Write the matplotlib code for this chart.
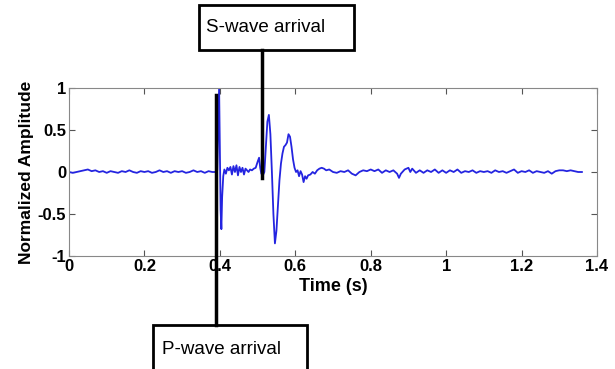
import matplotlib
matplotlib.use("Agg")
import matplotlib.pyplot as plt
from matplotlib.patches import Rectangle

plt.rcParams['font.family'] = ['Liberation Sans', 'DejaVu Sans']

# ---- data ----
time_pre = [0.00, 0.01, 0.02, 0.03, 0.04, 0.05, 0.06, 0.07, 0.08, 0.09, 0.10, 0.11, 0.12, 0.13,
            0.14, 0.15, 0.16, 0.17, 0.18, 0.19, 0.20, 0.21, 0.22, 0.23, 0.24, 0.25, 0.26, 0.27,
            0.28, 0.29, 0.30, 0.31, 0.32, 0.33, 0.34, 0.35, 0.36, 0.37, 0.38]
amp_pre = [0.0, -0.01, 0.0, 0.01, 0.02, 0.03, 0.01, 0.02, 0.0, 0.01, -0.01, 0.01, 0.0, -0.01,
           0.01, 0.0, 0.02, 0.0, -0.01, 0.01, 0.0, 0.01, -0.01, 0.0, 0.02, 0.0, 0.01, -0.01,
           0.01, 0.0, 0.01, -0.01, 0.0, 0.02, 0.0, 0.01, -0.01, 0.01, 0.0]

time_event = [0.390, 0.393, 0.396, 0.398, 0.400, 0.402, 0.404, 0.406, 0.409, 0.412, 0.416, 0.420,
              0.424, 0.428, 0.432, 0.436, 0.440, 0.444, 0.448, 0.452, 0.456, 0.460, 0.464, 0.468,
              0.472, 0.476, 0.480, 0.485, 0.490, 0.495, 0.500, 0.504, 0.507, 0.510, 0.514, 0.518,
              0.522, 0.526, 0.530, 0.534, 0.538, 0.542, 0.546, 0.550, 0.554, 0.558, 0.562, 0.566,
              0.570, 0.574, 0.578, 0.582, 0.586, 0.590, 0.594, 0.598, 0.602, 0.606, 0.610, 0.614,
              0.618, 0.622, 0.626, 0.630, 0.634, 0.640, 0.646, 0.652, 0.658, 0.664, 0.670, 0.676,
              0.682]
amp_event = [0.0, 0.02, 0.6, 1.0, 0.3, -0.45, -0.68, -0.3, -0.05, 0.03, -0.02, 0.05,
             0.02, 0.06, -0.03, 0.07, 0.0, 0.08, -0.04, 0.06, 0.0, 0.05, -0.03, 0.04,
             0.02, 0.0, 0.03, 0.02, 0.04, 0.05, 0.12, 0.17, 0.05, -0.02, -0.04, 0.0,
             0.3, 0.6, 0.68, 0.45, 0.0, -0.5, -0.85, -0.7, -0.4, -0.1, 0.1, 0.22,
             0.3, 0.32, 0.35, 0.45, 0.42, 0.3, 0.15, 0.05, 0.0, 0.02, -0.05, 0.01,
             -0.03, -0.12, -0.05, -0.08, -0.04, -0.03, 0.0, -0.02, 0.02, 0.04, 0.05, 0.04,
             0.02]

time_post = [0.69, 0.70, 0.71, 0.72, 0.73, 0.74, 0.75, 0.76, 0.77, 0.78, 0.79, 0.80, 0.81, 0.82,
             0.83, 0.84, 0.85, 0.86, 0.87, 0.875, 0.88, 0.89, 0.90, 0.905, 0.91, 0.92, 0.93,
             0.94, 0.95, 0.96, 0.97, 0.98, 0.99, 1.00, 1.01, 1.02, 1.03, 1.04, 1.05, 1.06,
             1.07, 1.08, 1.09, 1.10, 1.11, 1.12, 1.13, 1.14, 1.15, 1.16, 1.17, 1.18, 1.19,
             1.20, 1.21, 1.22, 1.23, 1.24, 1.25, 1.26, 1.27, 1.28, 1.29, 1.30, 1.31, 1.32,
             1.33, 1.34, 1.35, 1.36]
amp_post = [0.03, 0.0, -0.01, 0.01, 0.0, 0.02, -0.02, -0.04, 0.0, 0.02, 0.01, 0.03, 0.01, 0.03,
            -0.01, 0.02, 0.0, 0.02, -0.02, -0.07, -0.02, 0.03, 0.05, 0.0, 0.04, -0.01, 0.02,
            -0.01, 0.02, 0.0, 0.03, -0.01, 0.02, -0.01, 0.02, 0.0, 0.03, -0.01, 0.01, 0.0,
            0.02, -0.01, 0.01, 0.0, 0.01, -0.01, 0.02, 0.0, 0.01, -0.01, 0.01, 0.03, -0.01,
            0.01, 0.0, 0.02, -0.01, 0.01, 0.0, -0.01, 0.01, -0.02, 0.01, 0.02, 0.02, 0.01,
            0.02, 0.01, 0.0, 0.0]

time_s = time_pre + time_event + time_post
amplitude = amp_pre + amp_event + amp_post

x_ticks = [0, 0.2, 0.4, 0.6, 0.8, 1, 1.2, 1.4]
x_tick_labels = ['0', '0.2', '0.4', '0.6', '0.8', '1', '1.2', '1.4']
y_ticks = [-1, -0.5, 0, 0.5, 1]
y_tick_labels = ['-1', '-0.5', '0', '0.5', '1']

p_arrival = 0.390
s_arrival = 0.513

# ---- figure ----
fig = plt.figure(figsize=(6.15, 3.69), dpi=100)
ax = fig.add_axes([69/615, 1-256/369, (597-69)/615, (256-88)/369])

ax.plot(time_s, amplitude, color='#2424e0', lw=1.3)
ax.set_xlim(0, 1.4)
ax.set_ylim(-1, 1)
ax.set_xticks(x_ticks)
ax.set_xticklabels(x_tick_labels, fontsize=12, fontweight='bold')
ax.set_yticks(y_ticks)
ax.set_yticklabels(y_tick_labels, fontsize=12, fontweight='bold')
ax.tick_params(direction='in', top=True, right=True, length=4, color='#555555', pad=2)
for s in ax.spines.values():
    s.set_color('#888888')
    s.set_linewidth(0.8)
ax.set_xlabel('Time (s)', fontsize=13, fontweight='bold', labelpad=3)
ax.set_ylabel('Normalized Amplitude', fontsize=12.5, fontweight='bold', labelpad=3)

# arrival marker lines (data x, extend outside axes)
ax.plot([p_arrival, p_arrival], [0.92, -1.82], color='black', lw=2.5, clip_on=False, zorder=5)
ax.plot([s_arrival, s_arrival], [1.45, -0.07], color='black', lw=2.5, clip_on=False, zorder=5)

# label boxes in figure coordinates
fig.patches.append(Rectangle((153/615, -0.05), 154/615, 0.05 + 1-325/369,
                             transform=fig.transFigure, fill=False, edgecolor='black', lw=2))
fig.text(162/615, 1-350/369, 'P-wave arrival', fontsize=13.5, va='center', ha='left')
fig.patches.append(Rectangle((199/615, 1-50/369), 155/615, 45/369,
                             transform=fig.transFigure, fill=False, edgecolor='black', lw=2))
fig.text(206/615, 1-27/369, 'S-wave arrival', fontsize=13.5, va='center', ha='left')

fig.savefig('out.png', dpi=100)
